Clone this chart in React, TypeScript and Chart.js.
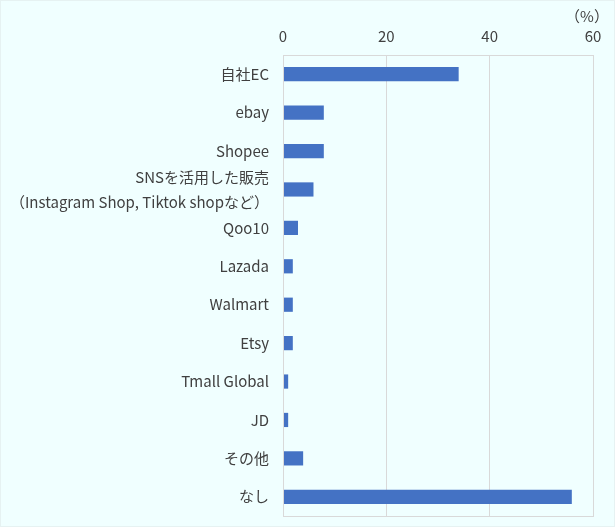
import React, { useEffect, useRef } from 'react';
import { Chart, registerables } from 'chart.js';

Chart.register(...registerables);

const categories: (string | string[])[] = [
  '自社EC',
  'ebay',
  'Shopee',
  ['SNSを活用した販売', '（Instagram Shop, Tiktok shopなど）'],
  'Qoo10',
  'Lazada',
  'Walmart',
  'Etsy',
  'Tmall Global',
  'JD',
  'その他',
  'なし',
];
const shares = [34.0, 7.9, 7.9, 5.9, 2.9, 1.9, 1.9, 1.9, 1.0, 1.0, 3.9, 55.9];
const xTicks = [0, 20, 40, 60];
const unitLabel = '（%）';

const FONT = "'Noto Sans CJK JP', 'Noto Sans', sans-serif";
const TEXT = '#404040';

// grey box round the plot area + the unit label over the last tick
const frame = {
  id: 'frame',
  afterDraw(chart: Chart) {
    const { ctx, chartArea } = chart;
    ctx.save();
    ctx.strokeStyle = '#d9d9d9';
    ctx.lineWidth = 1;
    ctx.strokeRect(
      Math.round(chartArea.left) + 0.5,
      Math.round(chartArea.top) + 0.5,
      Math.round(chartArea.right - chartArea.left),
      Math.round(chartArea.bottom - chartArea.top)
    );
    ctx.fillStyle = TEXT;
    ctx.font = `15px ${FONT}`;
    ctx.textAlign = 'center';
    ctx.textBaseline = 'middle';
    ctx.fillText(unitLabel, chartArea.right - 6, 15);
    ctx.restore();
  },
};

export default function App() {
  const canvasRef = useRef<HTMLCanvasElement>(null);

  useEffect(() => {
    if (!canvasRef.current) return;
    document.body.style.margin = '0';
    const chart = new Chart(canvasRef.current, {
      type: 'bar',
      data: {
        labels: categories,
        datasets: [
          {
            data: shares,
            backgroundColor: '#4472c4',
            barPercentage: 0.37,
            categoryPercentage: 1,
          },
        ],
      },
      options: {
        indexAxis: 'y',
        animation: false,
        responsive: false,
        layout: { padding: { top: 21, right: 21, bottom: 10, left: 0 } },
        plugins: {
          legend: { display: false },
          tooltip: { enabled: false },
        },
        scales: {
          x: {
            position: 'top',
            min: 0,
            max: 60,
            afterBuildTicks: (scale) => {
              scale.ticks = xTicks.map((v) => ({ value: v }));
            },
            ticks: {
              color: TEXT,
              font: { family: FONT, size: 15 },
              padding: 5,
            },
            grid: {
              color: '#d9d9d9',
              drawTicks: true,
              tickLength: 5,
              tickColor: 'rgba(0,0,0,0)',
            },
            border: { display: false },
          },
          y: {
            afterFit: (scale) => {
              scale.width = 282;
              scale.paddingTop = 0;
              scale.paddingBottom = 0;
            },
            ticks: {
              autoSkip: false,
              color: TEXT,
              font: { family: FONT, size: 15, lineHeight: 1.65 },
              padding: 14,
            },
            grid: { display: false, drawTicks: false },
            border: { display: false },
          },
        },
      },
      plugins: [frame],
    });
    return () => chart.destroy();
  }, []);

  return (
    <div
      style={{
        width: 615,
        height: 527,
        background: '#f0ffff',
        boxSizing: 'border-box',
        border: '1px solid #e6f2f2',
      }}
    >
      <canvas ref={canvasRef} width={613} height={525} />
    </div>
  );
}
